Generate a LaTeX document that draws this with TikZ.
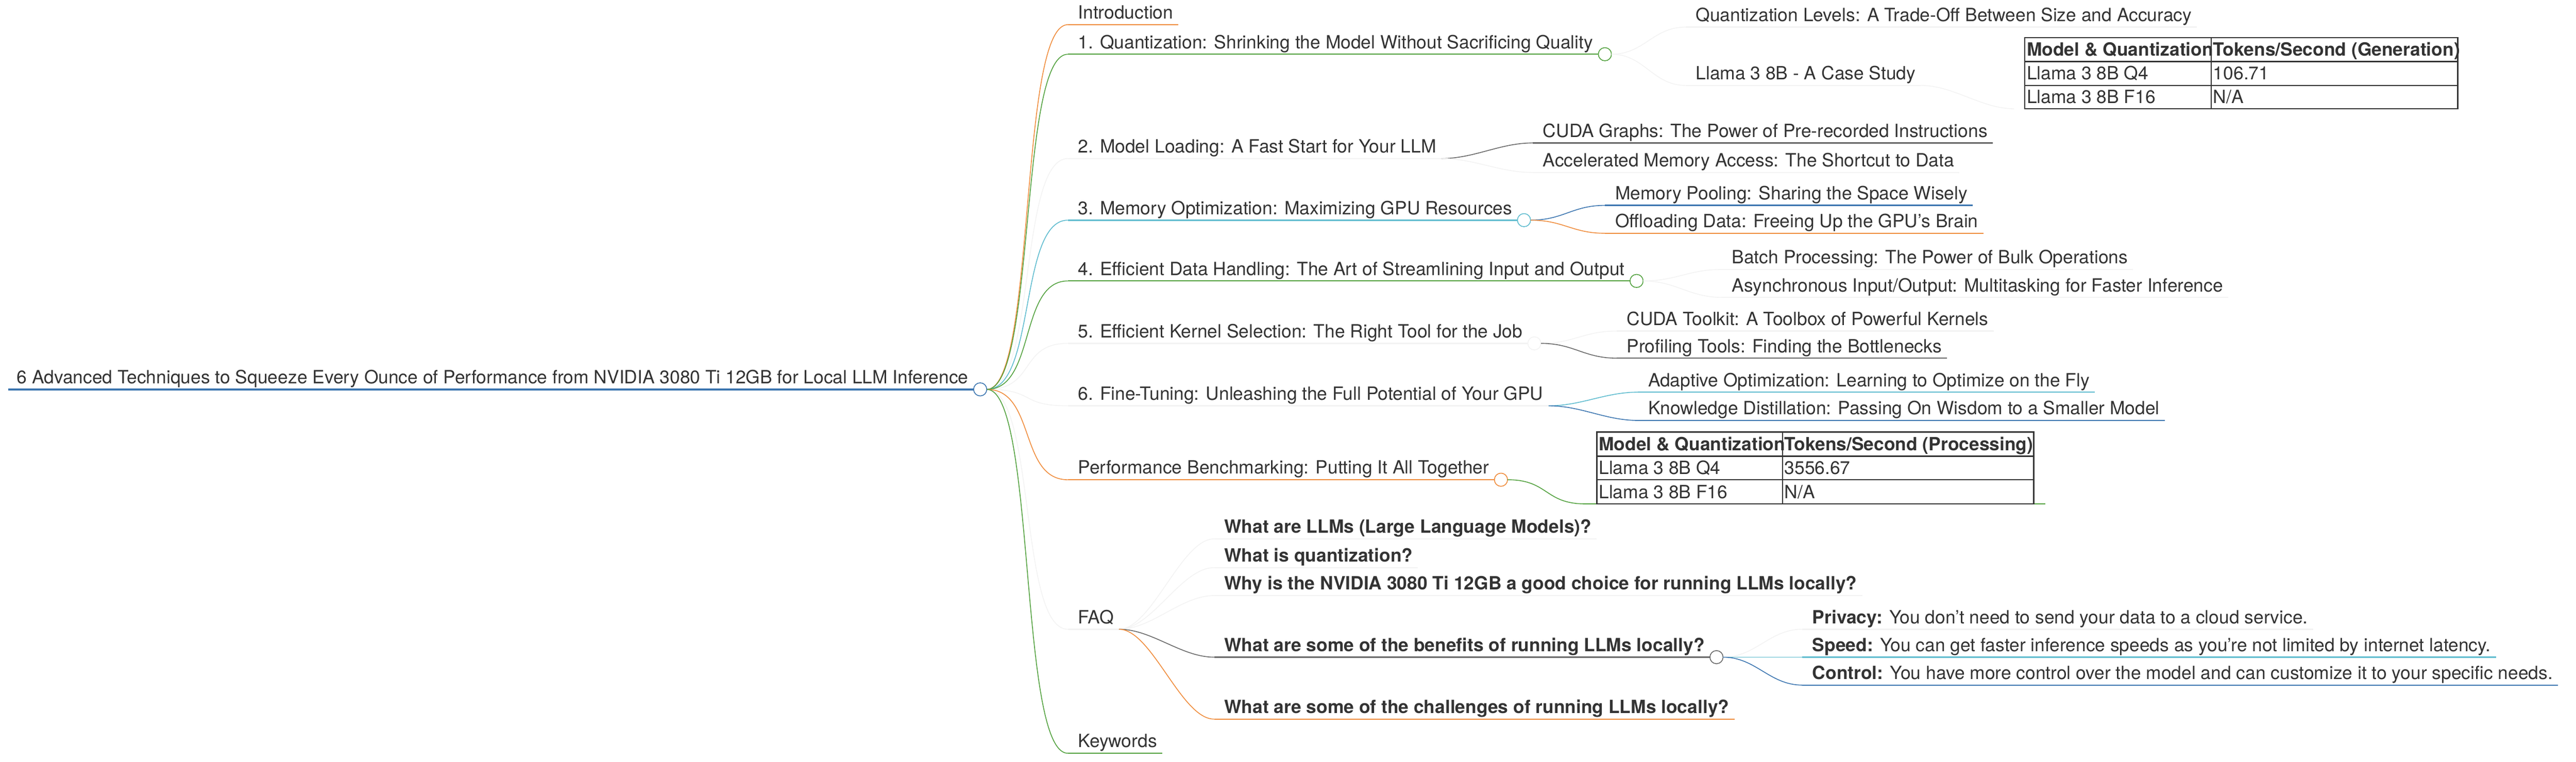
\documentclass[tikz,border=0pt]{standalone}
\usepackage{fontspec}
\setmainfont{TeX Gyre Heros}
\usetikzlibrary{calc}
\definecolor{tc}{HTML}{333333}
\definecolor{cor}{HTML}{EF8B3A}
\definecolor{cgr}{HTML}{50A03C}
\definecolor{ccy}{HTML}{5DBBCE}
\definecolor{cbl}{HTML}{3A74AF}
\definecolor{cgy}{HTML}{666666}
\definecolor{cfa}{HTML}{F3F3F3}
\newcommand\fs{\fontsize{11.1}{13}\selectfont}
\tikzset{
  txt/.style={anchor=base west,inner sep=0pt,text=tc,font=\fs},
  ttxt/.style={anchor=base west,inner sep=0pt,text=tc,font=\fs},
  htxt/.style={anchor=base west,inner sep=0pt,text=tc,font=\fs\bfseries},
  bld/.style={font=\fs\bfseries},
  ul/.style={line width=0.75pt},
  br/.style={line width=0.5pt},
  knob/.style={circle,draw,fill=white,line width=0.5pt,minimum size=8pt,inner sep=0pt},
  tab/.style={draw=tc,line width=0.8pt},
}
\newcommand\mm[5][]{%
  \node[txt,#1] (#2) at (#3,#4-3.5) {#5};
  \coordinate (#2-s) at (#3-6,#4);
  \coordinate (#2-e) at ($(#2.east |- 0,#4)+(3,0)$);}
\newcommand\lnk[4]{\draw[br,#1] (#2) .. controls +(#4,0) and +(-#4,0) .. (#3);}
\begin{document}
\begin{tikzpicture}[x=1pt,y=-1pt]
\useasboundingbox (0,0) rectangle (1568,463.5);
% root
\node[txt] (root) at (10,233.5) {6 Advanced Techniques to Squeeze Every Ounce of Performance from NVIDIA 3080 Ti 12GB for Local LLM Inference};
\coordinate (root-s) at (5,237);
\coordinate (root-e) at ($(root.east |- 0,237)+(3,0)$);
\coordinate (rk) at ($(root-e)+(8,0)$);
% main children
\mm{intro}{656}{15}{Introduction}
\mm{q}{656}{33}{1. Quantization: Shrinking the Model Without Sacrificing Quality}
\mm{ml}{656}{96.5}{2. Model Loading: A Fast Start for Your LLM}
\mm{mem}{656}{134}{3. Memory Optimization: Maximizing GPU Resources}
\mm{dat}{656}{171}{4. Efficient Data Handling: The Art of Streamlining Input and Output}
\mm{ker}{656}{209}{5. Efficient Kernel Selection: The Right Tool for the Job}
\mm{fin}{656}{247}{6. Fine-Tuning: Unleashing the Full Potential of Your GPU}
\mm{perf}{656}{292}{Performance Benchmarking: Putting It All Together}
\mm{faq}{656}{383}{FAQ}
\mm{kw}{656}{458.5}{Keywords}
% root branches
\foreach \n/\c in {ml/cfa,ker/cfa,fin/cfa,faq/cfa,intro/cor,q/cgr,mem/ccy,dat/cgr,perf/cor,kw/cgr}{
  \lnk{\c}{rk}{\n-s}{30}
}
\foreach \n/\c in {intro/cor,q/cgr,ml/cfa,mem/ccy,dat/cgr,ker/cfa,fin/cfa,perf/cor,faq/cfa,kw/cgr}{
  \draw[ul,\c] (\n-s) -- (\n-e);
}
\draw[cbl,line width=1.1pt] (root-s) -- (root-e);
% grandchildren
\mm{ql}{1032}{16.5}{Quantization Levels: A Trade-Off Between Size and Accuracy}
\mm{qc}{1032}{52}{Llama 3 8B - A Case Study}
\mm{cg}{939}{87}{CUDA Graphs: The Power of Pre-recorded Instructions}
\mm{am}{939}{105}{Accelerated Memory Access: The Shortcut to Data}
\mm{mp}{983}{125}{Memory Pooling: Sharing the Space Wisely}
\mm{od}{983}{142}{Offloading Data: Freeing Up the GPU's Brain}
\mm{bp}{1054}{164}{Batch Processing: The Power of Bulk Operations}
\mm{ai}{1054}{181}{Asynchronous Input/Output: Multitasking for Faster Inference}
\mm{ct}{990}{201.5}{CUDA Toolkit: A Toolbox of Powerful Kernels}
\mm{pt}{990}{218}{Profiling Tools: Finding the Bottlenecks}
\mm{ao}{1003}{238.7}{Adaptive Optimization: Learning to Optimize on the Fly}
\mm{kd}{1003}{255.9}{Knowledge Distillation: Passing On Wisdom to a Smaller Model}
\mm[bld]{f1}{745}{328}{What are LLMs (Large Language Models)?}
\mm[bld]{f2}{745}{345.5}{What is quantization?}
\mm[bld]{f3}{745}{362.5}{Why is the NVIDIA 3080 Ti 12GB a good choice for running LLMs locally?}
\mm[bld]{f4}{745}{400}{What are some of the benefits of running LLMs locally?}
\mm[bld]{f5}{745}{437.7}{What are some of the challenges of running LLMs locally?}
\mm{pv}{1103}{383}{\textbf{Privacy:} You don’t need to send your data to a cloud service.}
\mm{sp}{1103}{400}{\textbf{Speed:} You can get faster inference speeds as you’re not limited by internet latency.}
\mm{co}{1103}{417}{\textbf{Control:} You have more control over the model and can customize it to your specific needs.}
% knobs
\foreach \n/\c in {q/cgr,mem/ccy,dat/cgr,ker/cfa,perf/cor,f4/cgy}{
  \node[knob,draw=\c] (\n-k) at ($(\n-e)+(4,0)$) {};
  \coordinate (\n-o) at ($(\n-e)+(8,0)$);
}
\node[knob,draw=cbl] (root-k) at ($(root-e)+(4,0)$) {};
\coordinate (ml-o) at (ml-e);
\coordinate (fin-o) at (fin-e);
\coordinate (faq-o) at (faq-e);
% grandchild links
\foreach \p/\n/\c in {q/ql/cfa,q/qc/cfa,ml/cg/cgy,ml/am/cfa,mem/mp/cbl,mem/od/cor,dat/bp/cfa,dat/ai/cfa,ker/ct/cfa,ker/pt/cgy,fin/ao/ccy,fin/kd/cbl,faq/f1/cfa,faq/f2/cfa,faq/f3/cfa,faq/f4/cgy,faq/f5/cor,f4/pv/cfa,f4/sp/ccy,f4/co/cbl}{
  \lnk{\c}{\p-o}{\n-s}{20}
  \draw[ul,\c] (\n-s) -- (\n-e);
}
% table 1
\coordinate (t1) at (1226,66.2);
\lnk{cfa}{qc-e}{t1}{20}
\draw[tab] (1232.5,22.9) rectangle (1496,66.2);
\draw[tab] (1232.5,37.4) -- (1496,37.4) (1232.5,52) -- (1496,52) (1346,22.9) -- (1346,66.2);
\node[htxt] (t1a) at (1233.5,34) {Model \& Quantization};
\node[htxt] (t1b) at (1347,34) {Tokens/Second (Generation)};
\node[ttxt] (t1c) at (1233.5,48.5) {Llama 3 8B Q4};
\node[ttxt] (t1d) at (1347,48.5) {106.71};
\node[ttxt] (t1e) at (1233.5,63) {Llama 3 8B F16};
\node[ttxt] (t1f) at (1347,63) {N/A};
% table 2
\coordinate (t2s) at (965,306.7);
\coordinate (t2e) at (1245,306.7);
\lnk{cgr}{perf-o}{t2s}{25}
\draw[ul,cgr] (t2s) -- (t2e);
\draw[tab] (972,263) rectangle (1238,306.7);
\draw[tab] (972,277.7) -- (1238,277.7) (972,292) -- (1238,292) (1085,263) -- (1085,306.7);
\node[htxt] (t2a) at (973,274.3) {Model \& Quantization};
\node[htxt] (t2b) at (1086,274.3) {Tokens/Second (Processing)};
\node[ttxt] (t2c) at (973,288.8) {Llama 3 8B Q4};
\node[ttxt] (t2d) at (1086,288.8) {3556.67};
\node[ttxt] (t2e2) at (973,303.3) {Llama 3 8B F16};
\node[ttxt] (t2f) at (1086,303.3) {N/A};
\end{tikzpicture}
\end{document}
